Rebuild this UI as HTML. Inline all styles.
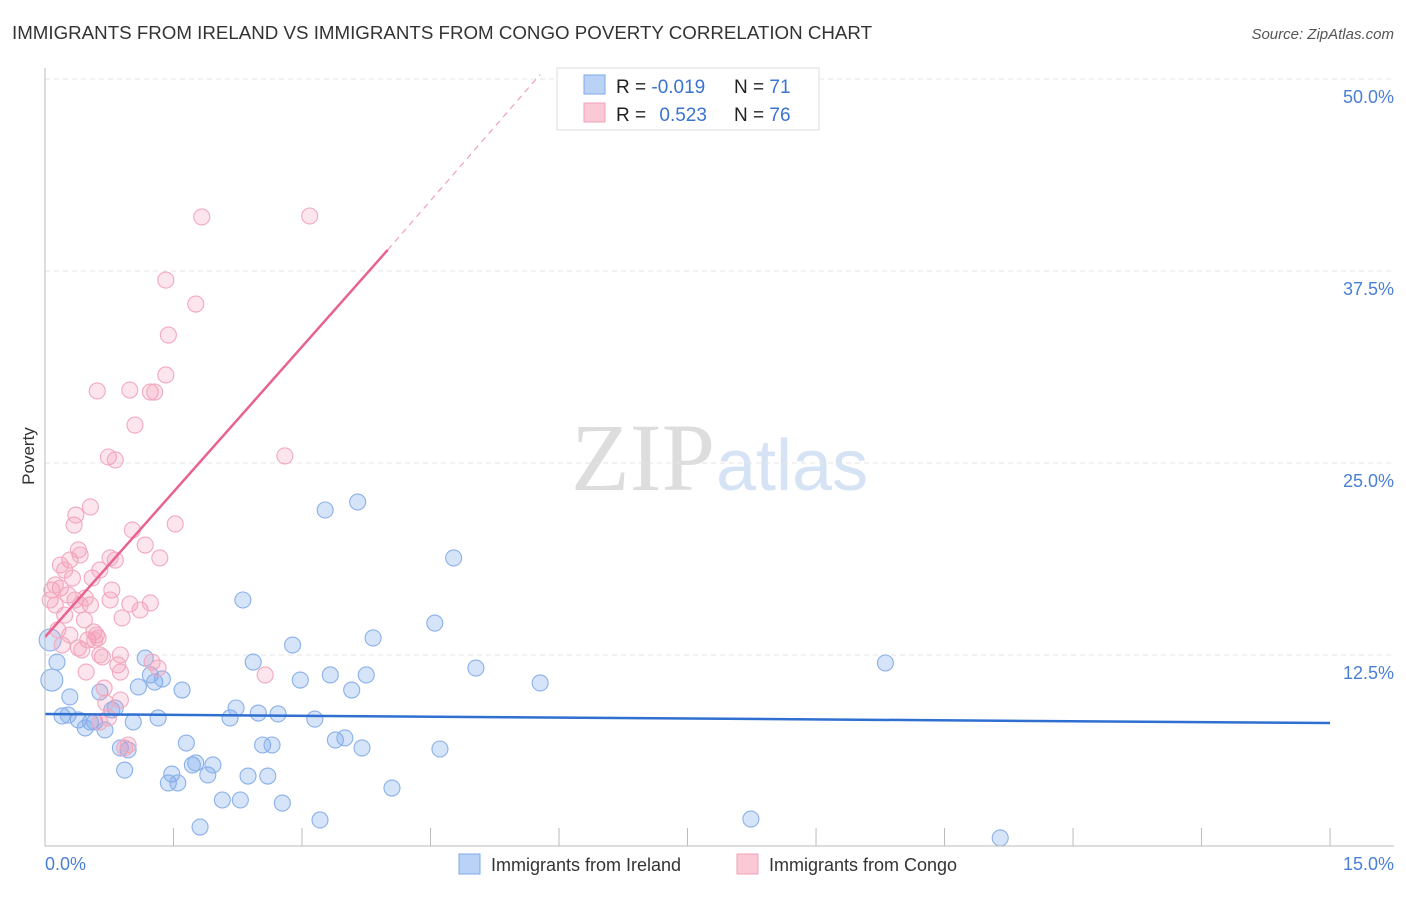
<!DOCTYPE html>
<html><head><meta charset="utf-8"><style>
body{margin:0;background:#fff;font-family:"Liberation Sans",sans-serif}
svg text{font-family:"Liberation Sans",sans-serif}
</style></head><body>
<svg id="c" width="1406" height="892">
<text x="12" y="39" font-size="18" fill="#333" textLength="860" lengthAdjust="spacingAndGlyphs">IMMIGRANTS FROM IRELAND VS IMMIGRANTS FROM CONGO POVERTY CORRELATION CHART</text>
<text x="1394" y="39" font-size="15" fill="#555" font-style="italic" text-anchor="end">Source: ZipAtlas.com</text>
<text x="34" y="456" font-size="17" fill="#333" text-anchor="middle" transform="rotate(-90 34 456)">Poverty</text>
<text x="715" y="490" font-size="96" fill="#ddd" text-anchor="end" style="font-family:'Liberation Serif',serif">ZIP</text>
<text x="716" y="490" font-size="72" fill="#d5e3f5">atlas</text>
<g id="grid"></g><g id="pts"></g><g id="lines"></g>
<line x1="45" y1="68" x2="45" y2="846" stroke="#bbb"/>
<line x1="45" y1="846" x2="1394" y2="846" stroke="#bbb"/>
<text x="45" y="870" font-size="18" fill="#4a7fd6">0.0%</text>
<text x="1394" y="870" font-size="18" fill="#4a7fd6" text-anchor="end">15.0%</text>
<g>
<rect x="557" y="68" width="262" height="62" fill="#fff" stroke="#ddd"/>
<rect x="584" y="75" width="21" height="19" fill="#b9d2f5" stroke="#7ea8e8"/>
<rect x="584" y="103" width="21" height="19" fill="#fbc8d6" stroke="#f0a0b8"/>
<text x="616" y="93" font-size="19" fill="#222">R = <tspan fill="#3a74d0">-0.019</tspan></text>
<text x="734" y="93" font-size="19" fill="#222">N = <tspan fill="#3a74d0">71</tspan></text>
<text x="616" y="121" font-size="19" fill="#222">R = <tspan fill="#3a74d0" dx="8">0.523</tspan></text>
<text x="734" y="121" font-size="19" fill="#222">N = <tspan fill="#3a74d0">76</tspan></text>
</g>
<g><rect x="459" y="854" width="21" height="20" fill="#b9d2f5" stroke="#7ea8e8"/><text x="491" y="871" font-size="18" fill="#333">Immigrants from Ireland</text></g>
<g><rect x="737" y="854" width="21" height="20" fill="#fbc8d6" stroke="#f0a0b8"/><text x="769" y="871" font-size="18" fill="#333">Immigrants from Congo</text></g>
</svg>
<script>
const yTicks=[12.5,25,37.5,50];
const yTickLabels=["12.5%","25.0%","37.5%","50.0%"];
const xTicks=[0,1.5,3,4.5,6,7.5,9,10.5,12,13.5,15];
const blueX=[0.06,0.08,0.14,0.20,0.29,0.27,0.39,0.47,0.53,0.58,0.64,0.70,0.78,0.82,0.88,0.93,0.97,1.03,1.09,1.17,1.23,1.28,1.32,1.37,1.44,1.48,1.55,1.60,1.65,1.72,1.76,1.81,1.90,1.96,2.07,2.16,2.23,2.28,2.31,2.37,2.43,2.49,2.54,2.60,2.65,2.72,2.77,2.89,2.98,3.15,3.21,3.27,3.33,3.39,3.50,3.58,3.65,3.70,3.75,3.83,4.05,4.55,4.61,4.77,5.03,5.78,8.24,9.81,11.15];
const blueY=[13.48,10.87,12.04,8.53,9.77,8.59,8.27,7.75,8.14,8.14,10.09,7.62,8.92,9.05,6.45,5.01,6.32,8.14,10.42,12.30,11.20,10.74,8.40,10.94,4.17,4.75,4.17,10.22,6.77,5.34,5.47,1.30,4.69,5.34,3.06,8.40,9.05,3.06,16.08,4.62,12.04,8.72,6.64,4.62,6.64,8.66,2.86,13.15,10.87,8.33,1.76,21.94,11.20,6.97,7.10,10.22,22.46,6.45,11.20,13.61,3.84,14.58,6.38,18.82,11.65,10.68,1.82,11.98,0.59];
const pinkX=[0.06,0.08,0.12,0.15,0.18,0.20,0.23,0.27,0.29,0.32,0.34,0.36,0.39,0.41,0.43,0.46,0.48,0.50,0.53,0.55,0.57,0.60,0.62,0.64,0.67,0.69,0.71,0.74,0.76,0.78,0.82,0.85,0.88,0.90,0.93,0.97,0.99,0.99,1.02,1.05,1.17,1.23,1.25,1.28,1.32,1.34,1.41,1.44,1.41,1.52,1.76,1.83,2.57,2.80,3.09,0.61,0.74,0.82,0.53,0.18,0.12,0.23,0.35,0.41,0.47,0.58,0.64,0.76,0.88,1.11,1.23,0.29,0.39,0.64,0.88];
const pinkY=[16.08,16.73,15.76,14.13,16.86,13.15,15.10,16.41,18.68,17.51,20.96,21.61,19.34,19.01,12.83,14.78,11.39,13.48,15.76,17.51,14.00,13.80,13.61,18.03,12.37,10.35,9.38,8.40,18.82,16.73,18.68,11.85,11.39,14.91,6.45,6.64,29.75,15.82,20.64,27.47,19.66,29.62,12.04,29.62,11.65,18.82,30.73,33.33,36.91,21.03,35.35,41.02,11.20,25.46,41.08,29.69,25.39,25.20,22.14,18.36,17.06,18.03,16.08,15.76,16.21,13.48,12.50,16.08,12.50,15.43,15.89,13.80,12.96,8.14,9.57];
const blueTrend=[[0,8.66],[15,8.07]];
const pinkTrend=[[0,13.67],[4.0,38.87],[5.78,50.3]];
const NS='http://www.w3.org/2000/svg';
const X=v=>45+v*85.67, Y=v=>847-v*15.36;
function mk(t,a,p){const e=document.createElementNS(NS,t);for(const k in a)e.setAttribute(k,a[k]);p.appendChild(e);return e;}
const g=document.getElementById('grid');
yTicks.forEach((t,i)=>{
 const l=mk('line',{x1:45,x2:1394,y1:Y(t),y2:Y(t),stroke:'#e4e4e4','stroke-dasharray':'5,4'},g);
 
 
 const tx=mk('text',{x:1394,y:Y(t)+24,'font-size':18,fill:'#4a7fd6','text-anchor':'end'},g);
 tx.textContent=yTickLabels[i];
 
 
});
xTicks.forEach(t=>{
 const l=mk('line',{x1:X(t),x2:X(t),y1:828,y2:846,stroke:'#bbb'},g);
 
 
});
const p=document.getElementById('pts');
blueX.forEach((v,i)=>{
 const c=mk('circle',{cx:X(v),cy:Y(blueY[i]),r:i<2?11:8,fill:'rgba(120,165,235,0.3)',stroke:'#8ab0ea','stroke-width':1.1},p);
 
 
});
pinkX.forEach((v,i)=>{
 const c=mk('circle',{cx:X(v),cy:Y(pinkY[i]),r:8,fill:'rgba(245,150,180,0.25)',stroke:'#f2a8be','stroke-width':1.1},p);
 
 
});
const L=document.getElementById('lines');
const bl=mk('line',{x1:X(blueTrend[0][0]),y1:Y(blueTrend[0][1]),x2:X(blueTrend[1][0]),y2:Y(blueTrend[1][1]),stroke:'#2f6fd0','stroke-width':2.5},L);


const pl=mk('line',{x1:X(pinkTrend[0][0]),y1:Y(pinkTrend[0][1]),x2:X(pinkTrend[1][0]),y2:Y(pinkTrend[1][1]),stroke:'#e8628f','stroke-width':2.5},L);


const pd=mk('line',{x1:X(pinkTrend[1][0]),y1:Y(pinkTrend[1][1]),x2:X(pinkTrend[2][0]),y2:Y(pinkTrend[2][1]),stroke:'#f0a0b8','stroke-width':1.2,'stroke-dasharray':'6,5'},L);


</script>
</body></html>
